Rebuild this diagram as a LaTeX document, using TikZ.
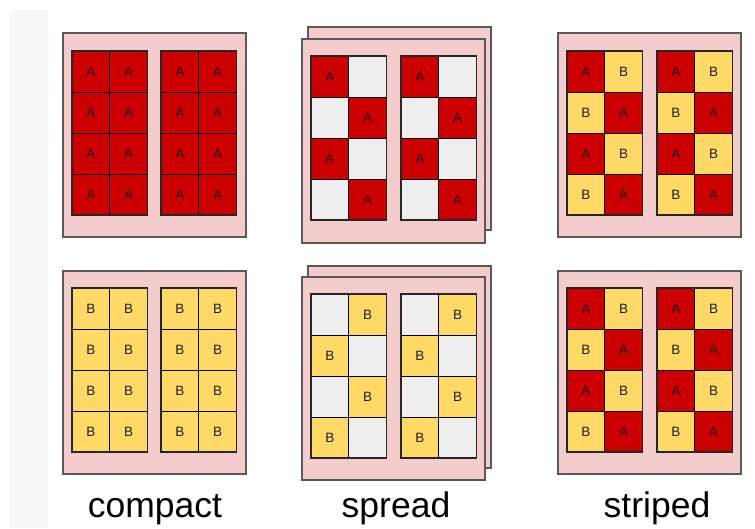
\documentclass[tikz,border=0pt]{standalone}
\usepackage{fontspec}
\setmainfont{Liberation Sans}
\definecolor{cA}{HTML}{CC0000}
\definecolor{cB}{HTML}{FFD966}
\definecolor{cE}{HTML}{EEEEEE}
\definecolor{panelfill}{HTML}{F4CCCC}
\definecolor{paneledge}{HTML}{595959}
\definecolor{bandgray}{HTML}{F8F8F8}
\definecolor{inkdark}{HTML}{1E1E1E}
% text of a cell: its kind letter, or nothing for an empty (E) cell
\newcommand\celltext[1]{\if#1E\else#1\fi}
% one 4x2 block of cells; #1 name, #2,#3 top-left corner, #4 list row/col/kind
\newcommand\cellblock[4]{%
  \foreach \r/\c/\k in {#4}{%
    \node[cellbox, fill=c\k] (#1-\r-\c)
      at ({#2+(\c-0.5)*37.75}, {#3+(\r-0.5)*41}) {\celltext{\k}};
  }%
  \draw[blockedge] (#2,#3) rectangle ({#2+75.5},{#3+164});
}
\tikzset{
  cellbox/.style={draw=black, line width=0.8pt, minimum width=37.75pt,
    minimum height=41pt, inner sep=0pt, text=inkdark,
    font=\fontsize{13.5}{13.5}\selectfont},
  blockedge/.style={draw=black!85, line width=1.1pt},
  panel/.style={fill=panelfill, draw=paneledge, line width=1.3pt},
  caption/.style={anchor=base, inner sep=0pt, font=\fontsize{35.5}{36}\selectfont},
}
\begin{document}
\begin{tikzpicture}[x=1pt, y=-1pt]
\useasboundingbox (0,0) rectangle (755,528);
\fill[white] (0,0) rectangle (755,528);
\fill[bandgray] (10,10) rectangle (48,528);

% ---- compact ----
\draw[panel] (63,33) rectangle (246,237);
\cellblock{cta}{72}{51}{1/1/A,1/2/A,2/1/A,2/2/A,3/1/A,3/2/A,4/1/A,4/2/A}
\cellblock{ctb}{161}{51}{1/1/A,1/2/A,2/1/A,2/2/A,3/1/A,3/2/A,4/1/A,4/2/A}
\draw[panel] (63,271) rectangle (246,474);
\cellblock{cba}{72}{288}{1/1/B,1/2/B,2/1/B,2/2/B,3/1/B,3/2/B,4/1/B,4/2/B}
\cellblock{cbb}{161}{288}{1/1/B,1/2/B,2/1/B,2/2/B,3/1/B,3/2/B,4/1/B,4/2/B}

% ---- spread ----
\draw[panel] (308,27) rectangle (491,230);
\draw[panel] (302,39) rectangle (485,243);
\cellblock{sta}{311}{56}{1/1/A,1/2/E,2/1/E,2/2/A,3/1/A,3/2/E,4/1/E,4/2/A}
\cellblock{stb}{401}{56}{1/1/A,1/2/E,2/1/E,2/2/A,3/1/A,3/2/E,4/1/E,4/2/A}
\draw[panel] (308,266) rectangle (491,468);
\draw[panel] (302,277) rectangle (485,480);
\cellblock{sba}{311}{294}{1/1/E,1/2/B,2/1/B,2/2/E,3/1/E,3/2/B,4/1/B,4/2/E}
\cellblock{sbb}{401}{294}{1/1/E,1/2/B,2/1/B,2/2/E,3/1/E,3/2/B,4/1/B,4/2/E}

% ---- striped ----
\draw[panel] (558,33) rectangle (741,237);
\cellblock{pta}{567}{51}{1/1/A,1/2/B,2/1/B,2/2/A,3/1/A,3/2/B,4/1/B,4/2/A}
\cellblock{ptb}{657}{51}{1/1/A,1/2/B,2/1/B,2/2/A,3/1/A,3/2/B,4/1/B,4/2/A}
\draw[panel] (558,271) rectangle (741,474);
\cellblock{pba}{567}{288}{1/1/A,1/2/B,2/1/B,2/2/A,3/1/A,3/2/B,4/1/B,4/2/A}
\cellblock{pbb}{657}{288}{1/1/A,1/2/B,2/1/B,2/2/A,3/1/A,3/2/B,4/1/B,4/2/A}

% ---- captions ----
\node[caption] (lcompact) at (155,517) {compact};
\node[caption] (lspread) at (396,517) {spread};
\node[caption] (lstriped) at (657,517) {striped};
\end{tikzpicture}
\end{document}
